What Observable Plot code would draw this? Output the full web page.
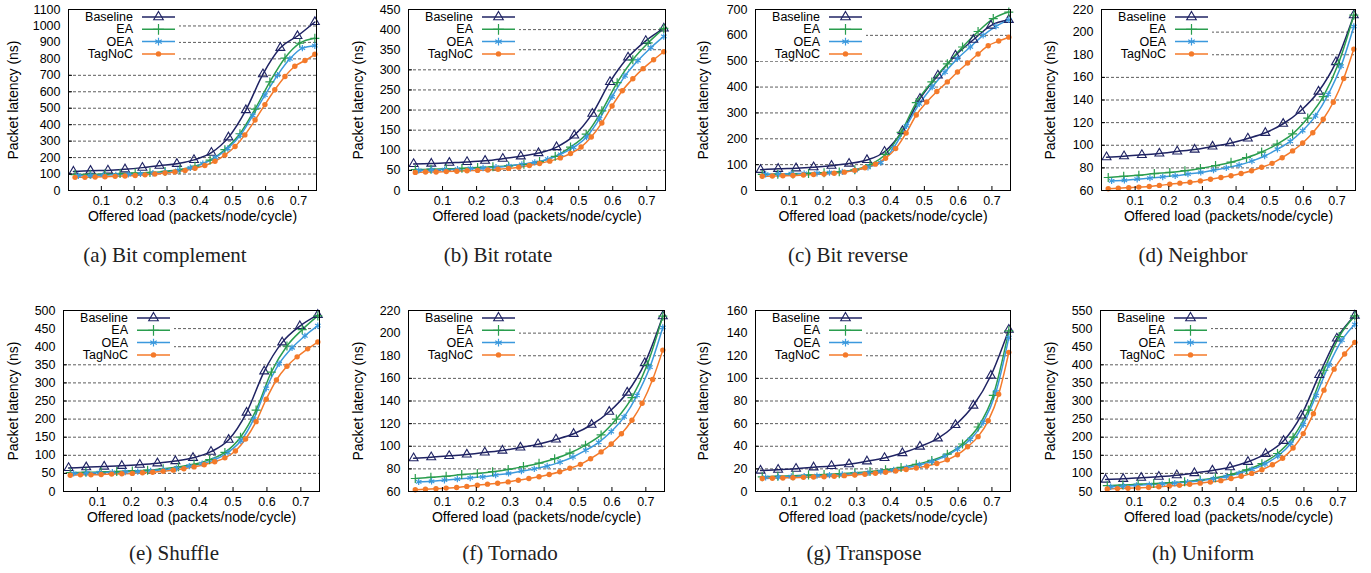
<!DOCTYPE html>
<html>
<head>
<meta charset="utf-8">
<script src="https://cdn.jsdelivr.net/npm/d3@7"></script>
<script src="https://cdn.jsdelivr.net/npm/@observablehq/plot@0.6"></script>
<style>
  html, body { margin: 0; padding: 0; background: #fff; }
  #root { position: relative; width: 1371px; height: 573px; overflow: hidden; background: #fff; }
  .panel { position: absolute; }
  .caption { position: absolute; font-family: "Liberation Serif", "Times New Roman", serif; font-size: 21px; color: #222; white-space: nowrap; transform: translate(-50%, -50%); }
  .legend { position: absolute; background: #fff; }
  .legend svg { overflow: visible; display: block; }
</style>
</head>
<body>
<div id="root"></div>
<script>
// ---- x positions of each series' samples (offered load) ----
const xBaseline = [0.015, 0.067, 0.12, 0.172, 0.225, 0.277, 0.33, 0.382, 0.435, 0.487, 0.54, 0.592, 0.645, 0.697, 0.75];
const xEA = [0.02, 0.066, 0.111, 0.157, 0.203, 0.248, 0.294, 0.339, 0.385, 0.431, 0.476, 0.522, 0.568, 0.613, 0.659, 0.704, 0.75];
const xOEA = [0.03, 0.068, 0.106, 0.144, 0.182, 0.219, 0.257, 0.295, 0.333, 0.371, 0.409, 0.447, 0.485, 0.523, 0.561, 0.598, 0.636, 0.674, 0.712, 0.75];
const xTagNoC = [0.02, 0.05, 0.081, 0.111, 0.142, 0.172, 0.203, 0.233, 0.263, 0.294, 0.324, 0.355, 0.385, 0.415, 0.446, 0.476, 0.507, 0.537, 0.568, 0.598, 0.628, 0.659, 0.689, 0.72, 0.75];
const xTicks = [0.1, 0.2, 0.3, 0.4, 0.5, 0.6, 0.7];

const seriesNames = ["Baseline", "EA", "OEA", "TagNoC"];
const seriesColors = ["#1f2363", "#2a9d4e", "#3b99dd", "#f47a2a"];

// ---- (a) Bit complement ----
const bitComplementBaseline = [115,120,122,129,139,151,162,186,230,323,489,707,867,939,1024];
const bitComplementEA = [97,99,100,103,106,110,116,127,148,185,248,345,495,660,805,895,925];
const bitComplementOEA = [90,91,93,95,98,101,105,112,122,138,163,200,255,335,455,580,700,800,865,880];
const bitComplementTagNoC = [80,80,82,84,86,88,91,95,100,106,113,122,135,152,178,215,267,338,428,522,612,693,755,790,828];
const bitComplementYTicks = [0,100,200,300,400,500,600,700,800,900,1000,1100];

// ---- (b) Bit rotate ----
const bitRotateBaseline = [66,67,69,71,74,79,85,93,108,137,191,270,331,372,403];
const bitRotateEA = [52,53,54,55,57,59,61,65,72,85,108,140,198,268,325,367,403];
const bitRotateOEA = [50,51,52,53,55,56,58,61,65,70,78,90,107,133,178,233,285,323,355,383];
const bitRotateTagNoC = [45,46,46,47,48,49,50,51,53,55,58,62,67,73,81,92,108,133,168,210,248,278,303,325,345];
const bitRotateYTicks = [0,50,100,150,200,250,300,350,400,450];

// ---- (c) Bit reverse ----
const bitReverseBaseline = [80,84,86,90,96,104,118,150,230,355,445,522,583,638,660];
const bitReverseEA = [62,63,64,66,69,72,80,100,140,225,340,420,490,555,615,665,690];
const bitReverseOEA = [63,64,65,66,67,69,72,78,90,108,165,250,335,400,458,510,555,600,635,660];
const bitReverseTagNoC = [55,56,57,58,60,62,64,67,71,78,88,102,125,162,222,292,342,383,420,458,493,528,560,578,593];
const bitReverseYTicks = [0,100,200,300,400,500,600,700];

// ---- (d) Neighbor ----
const neighborBaseline = [89.5,90.3,91.5,92.7,94.5,96.2,98.9,101.8,106,111,119,130.5,147.5,173.5,215];
const neighborEA = [71.5,72.5,73.5,75,76,77.5,79.5,82,85,89,94,101,110,124,143,172,215];
const neighborOEA = [68.5,69,70,71,72,73,74.5,76,78,80,82.5,86,90.5,96.5,103.5,113,126,145,170,205];
const neighborTagNoC = [61.5,62,62.5,63,63.5,64.5,65.5,66.5,67.3,68.5,70,71.5,73,75,77.5,80.5,84,89,95,102,111,123,138,159,185];
const neighborYTicks = [60,80,100,120,140,160,180,200,220];

// ---- (e) Shuffle ----
const shuffleBaseline = [65,67,69,71,74,78,84,93,110,143,218,332,412,457,488];
const shuffleEA = [52,53,54,55,57,59,63,68,75,88,108,150,225,330,402,447,485];
const shuffleOEA = [50,51,52,53,54,55,57,60,64,70,77,88,108,140,200,285,353,397,430,458];
const shuffleTagNoC = [45,46,46,47,48,49,50,52,53,56,59,63,68,74,82,93,112,145,193,255,308,346,372,394,413];
const shuffleYTicks = [0,50,100,150,200,250,300,350,400,450,500];

// ---- (f) Tornado ----
const tornadoBaseline = [89.5,90.3,91.5,92.7,94.5,96.2,98.9,101.8,106,111,119,130.5,147.5,173.5,215];
const tornadoEA = [71.5,72.5,73.5,75,76,77.5,79.5,82,85,89,94,101,110,124,143,172,215];
const tornadoOEA = [68.5,69,70,71,72,73,74.5,76,78,80,82.5,86,90.5,96.5,103.5,113,126,145,170,205];
const tornadoTagNoC = [61.5,62,62.5,63,63.5,64.5,65.5,66.5,67.3,68.5,70,71.5,73,75,77.5,80.5,84,89,95,102,111,123,138,159,185];
const tornadoYTicks = [60,80,100,120,140,160,180,200,220];

// ---- (g) Transpose ----
const transposeBaseline = [18.5,19.3,20.2,21.4,22.6,24.1,26.7,29.7,34,39.7,47,58.8,76,102.5,143];
const transposeEA = [13,13.5,14,14.5,15,15.7,16.5,17.7,19.3,21.3,24,27.5,33,42,57,85,142];
const transposeOEA = [12.5,12.8,13.2,13.6,14,14.5,15,15.7,16.5,17.6,19,21,23.5,26.5,31,37.5,46,61,88,136];
const transposeTagNoC = [11.5,11.7,12,12.2,12.5,12.8,13.1,13.5,14,14.6,15.3,16.1,17,18.1,19.4,20.8,22.5,24.8,28,32.5,39.5,48.5,62.5,86,123];
const transposeYTicks = [0,20,40,60,80,100,120,140,160];

// ---- (h) Uniform ----
const uniformBaseline = [83,85,88,91,95,101,108,117,132,154,190,260,372,473,536];
const uniformEA = [66,68,70,72,74,77,82,88,97,110,127,155,200,275,385,478,535];
const uniformOEA = [63,65,67,69,71,73,76,80,85,91,100,111,126,148,182,235,315,400,468,512];
const uniformTagNoC = [57,58,59,60,61,63,65,67,70,73,76,80,86,92,100,110,124,142,170,210,265,330,388,430,462];
const uniformYTicks = [50,100,150,200,250,300,350,400,450,500,550];

// ---- layout ----
const panels = [
  {caption: "(a) Bit complement", series: [bitComplementBaseline, bitComplementEA, bitComplementOEA, bitComplementTagNoC], yTicks: bitComplementYTicks, x0: 0,    top: 0,   frameL: 68,   frameR: 316,  yLabelX: 13,   capX: 165,  capY: 255},
  {caption: "(b) Bit rotate",     series: [bitRotateBaseline, bitRotateEA, bitRotateOEA, bitRotateTagNoC],                 yTicks: bitRotateYTicks,     x0: 345,  top: 0,   frameL: 408,  frameR: 665,  yLabelX: 358,  capX: 498,  capY: 255},
  {caption: "(c) Bit reverse",    series: [bitReverseBaseline, bitReverseEA, bitReverseOEA, bitReverseTagNoC],             yTicks: bitReverseYTicks,    x0: 690,  top: 0,   frameL: 755,  frameR: 1010, yLabelX: 703,  capX: 848,  capY: 255},
  {caption: "(d) Neighbor",       series: [neighborBaseline, neighborEA, neighborOEA, neighborTagNoC],                     yTicks: neighborYTicks,      x0: 1030, top: 0,   frameL: 1101, frameR: 1355, yLabelX: 1050, capX: 1193, capY: 255},
  {caption: "(e) Shuffle",        series: [shuffleBaseline, shuffleEA, shuffleOEA, shuffleTagNoC],                         yTicks: shuffleYTicks,       x0: 0,    top: 301, frameL: 63,   frameR: 319,  yLabelX: 13,   capX: 174,  capY: 553},
  {caption: "(f) Tornado",        series: [tornadoBaseline, tornadoEA, tornadoOEA, tornadoTagNoC],                         yTicks: tornadoYTicks,       x0: 345,  top: 301, frameL: 408,  frameR: 664,  yLabelX: 358,  capX: 510,  capY: 553},
  {caption: "(g) Transpose",      series: [transposeBaseline, transposeEA, transposeOEA, transposeTagNoC],                 yTicks: transposeYTicks,     x0: 690,  top: 301, frameL: 755,  frameR: 1010, yLabelX: 703,  capX: 864,  capY: 553},
  {caption: "(h) Uniform",        series: [uniformBaseline, uniformEA, uniformOEA, uniformTagNoC],                         yTicks: uniformYTicks,       x0: 1030, top: 301, frameL: 1100, frameR: 1356, yLabelX: 1050, capX: 1203, capY: 553}
];

const xSets = [xBaseline, xEA, xOEA, xTagNoC];
const root = document.getElementById("root");
const FONT = "'Liberation Sans', Arial, sans-serif";

function dotMark(data, i) {
  const c = seriesColors[i];
  if (i === 0) return Plot.dot(data, {x: "x", y: "y", symbol: () => "triangle", r: 3.3, stroke: c, fill: "none", strokeWidth: 1.1});
  if (i === 1) return Plot.dot(data, {x: "x", y: "y", symbol: () => "plus", r: 3, stroke: c, fill: "none", strokeWidth: 1.2});
  if (i === 2) return Plot.dot(data, {x: "x", y: "y", symbol: () => "asterisk", r: 3, stroke: c, fill: "none", strokeWidth: 1.2});
  return Plot.dot(data, {x: "x", y: "y", r: 2.7, fill: c, stroke: "none"});
}

panels.forEach(p => {
  const width = p.frameR - p.x0 + 12;
  const height = 230;
  const yDomain = [p.yTicks[0], p.yTicks[p.yTicks.length - 1]];
  const gridTicks = p.yTicks.slice(1, -1);
  const tables = p.series.map((ys, i) => ys.map((y, j) => ({x: xSets[i][j], y, s: seriesNames[i]})));
  const marks = [
    Plot.ruleY(gridTicks, {stroke: "#333", strokeWidth: 0.8, strokeDasharray: "3,2"}),
    ...tables.map((t, i) => Plot.line(t, {x: "x", y: "y", stroke: seriesColors[i], strokeWidth: 1.5, curve: "monotone-x"})),
    ...tables.map((t, i) => dotMark(t, i)),
    Plot.frame({stroke: "#000", strokeWidth: 1}),
    Plot.axisX(xTicks, {tickSize: -4, tickPadding: 10, tickFormat: d => d.toFixed(1), label: null, fontSize: 12.5}),
    Plot.axisY(p.yTicks, {tickSize: -4, tickPadding: 12, tickFormat: d => String(d), label: null, fontSize: 12.5}),
    Plot.text(["Offered load (packets/node/cycle)"], {text: d => d, frameAnchor: "bottom", dy: 30, fontSize: 14, fill: "#000"}),
    Plot.text(["Packet latency (ns)"], {text: d => d, frameAnchor: "left", textAnchor: "middle", rotate: -90, dx: p.yLabelX - p.frameL, fontSize: 14, fill: "#000"})
  ];
  const chart = Plot.plot({
    width, height,
    marginTop: 9, marginBottom: 40, marginLeft: p.frameL - p.x0, marginRight: 12,
    x: {domain: [0, 0.755]},
    y: {domain: yDomain},
    style: {fontFamily: FONT, fontSize: "12px", color: "#000", background: "transparent", overflow: "visible"},
    marks
  });
  const wrap = document.createElement("div");
  wrap.className = "panel";
  wrap.style.left = p.x0 + "px";
  wrap.style.top = p.top + "px";
  wrap.appendChild(chart);
  root.appendChild(wrap);

  // legend (opaque box in the top-left of the frame)
  const lg = document.createElement("div");
  lg.className = "legend";
  lg.style.left = (p.frameL + 1) + "px";
  lg.style.top = (p.top + 10) + "px";
  lg.style.width = "110px";
  lg.style.height = "51px";
  root.appendChild(lg);
  const svg = d3.select(lg).append("svg").attr("width", 110).attr("height", 51);
  seriesNames.forEach((name, i) => {
    const cy = 7 + i * 12.3;
    svg.append("text").attr("x", 64).attr("y", cy).attr("text-anchor", "end").attr("dominant-baseline", "central")
      .attr("font-family", FONT).attr("font-size", 12.5).attr("fill", "#000").text(name);
    svg.append("line").attr("x1", 73).attr("x2", 106).attr("y1", cy).attr("y2", cy).attr("stroke", seriesColors[i]).attr("stroke-width", 1.5);
    const mx = 89.5;
    if (i === 0) svg.append("path").attr("d", d3.symbol().type(d3.symbolTriangle).size(40)()).attr("transform", `translate(${mx},${cy})`).attr("fill", "none").attr("stroke", seriesColors[i]).attr("stroke-width", 1.1);
    if (i === 1) svg.append("path").attr("d", d3.symbol().type(d3.symbolPlus).size(40)()).attr("transform", `translate(${mx},${cy})`).attr("fill", "none").attr("stroke", seriesColors[i]).attr("stroke-width", 1.2);
    if (i === 2) svg.append("path").attr("d", d3.symbol().type(d3.symbolAsterisk).size(40)()).attr("transform", `translate(${mx},${cy})`).attr("fill", "none").attr("stroke", seriesColors[i]).attr("stroke-width", 1.2);
    if (i === 3) svg.append("circle").attr("cx", mx).attr("cy", cy).attr("r", 2.7).attr("fill", seriesColors[i]);
  });

  const cap = document.createElement("div");
  cap.className = "caption";
  cap.style.left = p.capX + "px";
  cap.style.top = p.capY + "px";
  cap.textContent = p.caption;
  root.appendChild(cap);
});
</script>
</body>
</html>
